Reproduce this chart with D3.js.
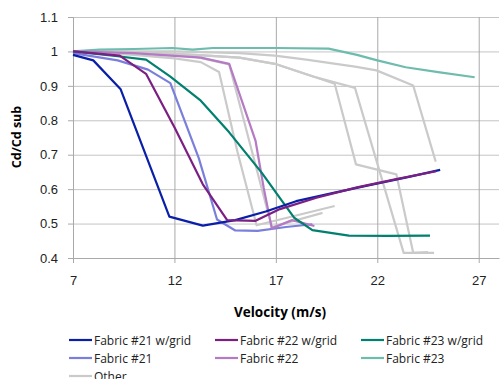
<!DOCTYPE html>
<html>
<head>
<meta charset="utf-8">
<script src="https://cdn.jsdelivr.net/npm/d3@7"></script>
<style>
  body { margin: 0; background: #fff; }
  svg { font-family: "Open Sans", sans-serif; }
  .grid line { stroke: #c4c4c4; }
  .vgrid line { stroke: #a9a9a9; }
  .axis path, .axis line { stroke: #a9a9a9; }
  .axis text { fill: #222; font-size: 13px; }
</style>
</head>
<body>
<svg width="503" height="379"></svg>
<script>
// series data, [velocity, Cd/Cd sub]
const names = ['Fabric #21 w/grid', 'Fabric #22 w/grid', 'Fabric #23 w/grid',
               'Fabric #21', 'Fabric #22', 'Fabric #23', 'Other'];
const colors = ['#0a1fa8', '#7b1f82', '#00806e', '#7a7fdc', '#b57ac4', '#6dbcae', '#cacaca'];

const fab21grid = [[7,0.99],[8,0.974],[9.35,0.89],[11.75,0.52],[13.4,0.494],[15,0.51],[16.5,0.535],
                   [18,0.565],[19.9,0.59],[21.5,0.61],[23.5,0.635],[25.1,0.656]];
const fab22grid = [[7,1.0],[9.3,0.988],[10.6,0.935],[12,0.78],[13.4,0.614],[14.6,0.51],[16,0.508],
                   [17.2,0.542],[19,0.575],[21,0.605],[23,0.63],[24.9,0.652]];
const fab23grid = [[7,1.0],[9.2,0.986],[10.6,0.976],[11.8,0.927],[13.3,0.857],[14.7,0.765],[16.3,0.648],
                   [17.3,0.566],[17.9,0.517],[18.8,0.481],[20.6,0.465],[22.5,0.464],[24.6,0.465]];
const fab21 = [[7,0.995],[9.2,0.974],[10.7,0.947],[11.8,0.908],[13.2,0.69],[14.1,0.512],[15,0.48],
               [16.1,0.479],[17.5,0.49],[18.8,0.498]];
const fab22 = [[7,1.0],[10,0.995],[13.3,0.982],[14.7,0.964],[16,0.74],[16.4,0.604],[16.8,0.486],
               [17.8,0.51],[18.9,0.493]];
const fab23 = [[7,1.0],[8.3,1.005],[10,1.007],[11.9,1.01],[12.9,1.005],[13.9,1.01],[15.2,1.01],
               [17,1.01],[19.6,1.008],[21,0.99],[22,0.974],[23.4,0.954],[25,0.94],[26.8,0.925]];
const otherA = [[7,1.0],[10,0.99],[12,0.98],[13.3,0.969],[14.2,0.94],[15.1,0.71],[16.05,0.495],[19.9,0.551]];
const otherB = [[7,1.0],[10,0.998],[13,0.99],[15.2,0.982],[16.95,0.964],[18.84,0.927],[19.9,0.906],
                [20.95,0.672],[22.94,0.643],[23.77,0.415],[24.5,0.417]];
const otherC = [[7,1.0],[10,0.998],[13,0.99],[15.2,0.982],[16.95,0.964],[18.84,0.927],[20.9,0.894],
                [23.3,0.415],[24.8,0.415]];
const otherD = [[7,1.0],[12,1.0],[15.2,0.995],[16.95,0.988],[18.5,0.976],[20.9,0.956],[21.96,0.945],
                [23.77,0.901],[24.88,0.68]];
const otherE = [[7,1.0],[10,0.995],[13,0.985],[14.7,0.962],[16.8,0.49],[19.3,0.531]];

const xTicks = [7, 12, 17, 22, 27];
const yTicks = [0.4, 0.5, 0.6, 0.7, 0.8, 0.9, 1, 1.1];

const svg = d3.select('svg');

const x = d3.scaleLinear().domain([7, 28]).range([73, 499]);
const y = d3.scaleLinear().domain([0.4, 1.1]).range([258, 17]);

// grid lines
svg.append('g')
    .attr('class', 'grid')
    .attr('transform', 'translate(73,0)')
    .call(d3.axisLeft(y).tickValues(yTicks).tickSize(-426).tickFormat(''))
    .call(g => g.select('.domain').remove());

svg.append('g')
    .attr('class', 'vgrid')
    .attr('transform', 'translate(0,258)')
    .call(d3.axisBottom(x).tickValues(xTicks).tickSize(-241).tickFormat(''))
    .call(g => g.select('.domain').remove());

// axes
svg.append('g')
    .attr('class', 'axis')
    .attr('transform', 'translate(73,0)')
    .call(d3.axisLeft(y).tickValues(yTicks).tickSize(5).tickSizeOuter(0).tickPadding(10)
        .tickFormat(d => d === 1 ? '1' : d3.format('.1f')(d)));

svg.append('g')
    .attr('class', 'axis')
    .attr('transform', 'translate(0,258)')
    .call(d3.axisBottom(x).tickValues(xTicks).tickSize(5).tickSizeOuter(0).tickPadding(13)
        .tickFormat(d3.format('d')));

// lines
const line = d3.line().x(d => x(d[0])).y(d => y(d[1]));

const series = [
  { data: otherA, c: 6 }, { data: otherB, c: 6 }, { data: otherC, c: 6 },
  { data: otherD, c: 6 }, { data: otherE, c: 6 },
  { data: fab23, c: 5 }, { data: fab21, c: 3 }, { data: fab22, c: 4 },
  { data: fab23grid, c: 2 }, { data: fab21grid, c: 0 }, { data: fab22grid, c: 1 }
];

svg.append('g').selectAll('path')
    .data(series)
    .enter()
    .append('path')
    .attr('d', s => line(s.data))
    .attr('fill', 'none')
    .attr('stroke', s => colors[s.c])
    .attr('stroke-width', 2.2)
    .attr('stroke-linejoin', 'round');

// titles
svg.append('text')
    .attr('transform', 'translate(21,137) rotate(-90)')
    .attr('text-anchor', 'middle')
    .attr('font-size', 12.5)
    .attr('font-weight', 'bold')
    .text('Cd/Cd sub');

svg.append('text')
    .attr('x', 280)
    .attr('y', 317)
    .attr('text-anchor', 'middle')
    .attr('font-size', 13.5)
    .attr('font-weight', 'bold')
    .text('Velocity (m/s)');

// legend
const legend = svg.append('g').selectAll('g')
    .data(names)
    .enter()
    .append('g')
    .attr('transform', (d, i) => `translate(${69 + (i % 3) * 146}, ${340 + Math.floor(i / 3) * 18})`);

legend.append('line')
    .attr('x1', 0).attr('x2', 23)
    .attr('stroke', (d, i) => colors[i])
    .attr('stroke-width', 2.2);

legend.append('text')
    .attr('x', 25)
    .attr('y', 4.5)
    .attr('font-size', 12)
    .attr('fill', '#222')
    .text(d => d);
</script>
</body>
</html>
